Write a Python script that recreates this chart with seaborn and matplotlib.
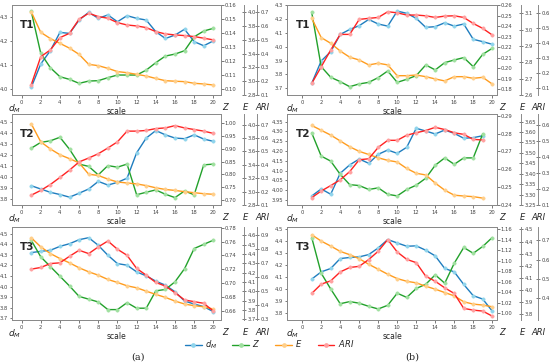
import numpy as np
import pandas as pd
import matplotlib.pyplot as plt
import seaborn as sns
from matplotlib.lines import Line2D

# x values
scale_20 = list(range(1, 21))
scale_19 = list(range(1, 20))

# (a) T1
a_t1_dm = [4.008, 4.105, 4.160, 4.235, 4.231, 4.286, 4.318, 4.293, 4.307, 4.279,
           4.304, 4.293, 4.286, 4.238, 4.210, 4.224, 4.248, 4.197, 4.180, 4.200]
a_t1_z = [0.1557, 0.1256, 0.1154, 0.1090, 0.1071, 0.1043, 0.1059, 0.1062, 0.1083, 0.1102,
          0.1102, 0.1102, 0.1137, 0.1190, 0.1237, 0.1251, 0.1275, 0.1374, 0.1415, 0.1434]
a_t1_e = [4.01, 3.71, 3.62, 3.55, 3.48, 3.39, 3.245, 3.226, 3.187, 3.14,
          3.124, 3.10, 3.076, 3.04, 3.008, 3.00, 2.994, 2.97, 2.96, 2.945]
a_t1_ari = [0.173, 0.378, 0.427, 0.516, 0.548, 0.650, 0.693, 0.669, 0.657, 0.625,
            0.608, 0.601, 0.589, 0.560, 0.543, 0.536, 0.531, 0.524, 0.512, 0.500]

# (b) T1
b_t1_dm = [3.736, 3.897, 3.964, 4.088, 4.124, 4.151, 4.196, 4.163, 4.148, 4.256,
           4.240, 4.204, 4.139, 4.144, 4.172, 4.148, 4.163, 4.053, 4.036, 4.017]
b_t1_z = [0.2531, 0.2015, 0.1914, 0.1873, 0.1825, 0.1851, 0.1866, 0.1911, 0.1974, 0.1866,
          0.1895, 0.1930, 0.2031, 0.1984, 0.2053, 0.2078, 0.2101, 0.2015, 0.2132, 0.2189]
b_t1_e = [3.069, 2.951, 2.916, 2.869, 2.831, 2.814, 2.784, 2.794, 2.784, 2.718,
          2.718, 2.722, 2.712, 2.698, 2.686, 2.712, 2.712, 2.702, 2.708, 2.667]
b_t1_ari = [0.133, 0.244, 0.356, 0.460, 0.460, 0.560, 0.567, 0.573, 0.611, 0.604,
            0.589, 0.589, 0.584, 0.573, 0.582, 0.584, 0.573, 0.533, 0.500, 0.456]

# (a) T2
a_t2_dm = [3.925, 3.895, 3.865, 3.845, 3.821, 3.857, 3.895, 3.964, 3.931, 3.955,
           3.993, 4.223, 4.357, 4.425, 4.386, 4.357, 4.351, 4.386, 4.348, 4.327]
a_t2_z = [0.902, 0.925, 0.931, 0.945, 0.898, 0.840, 0.831, 0.798, 0.834, 0.828,
          0.840, 0.720, 0.730, 0.739, 0.722, 0.709, 0.735, 0.720, 0.837, 0.840]
a_t2_e = [4.015, 3.744, 3.638, 3.551, 3.492, 3.430, 3.260, 3.241, 3.187, 3.144,
          3.129, 3.115, 3.090, 3.057, 3.032, 3.018, 2.999, 2.984, 2.969, 2.960]
a_t2_ari = [0.173, 0.209, 0.253, 0.306, 0.361, 0.422, 0.451, 0.483, 0.526, 0.572,
            0.652, 0.652, 0.657, 0.671, 0.676, 0.693, 0.676, 0.664, 0.652, 0.635]

# (b) T2
b_t2_dm = [3.970, 4.006, 3.979, 4.086, 4.129, 4.159, 4.137, 4.183, 4.205, 4.188,
           4.219, 4.316, 4.302, 4.287, 4.307, 4.290, 4.265, 4.268, 4.278]
b_t2_z = [0.2804, 0.2674, 0.2646, 0.2572, 0.2514, 0.2509, 0.2487, 0.2496, 0.2460, 0.2451,
          0.2487, 0.2511, 0.2550, 0.2623, 0.2664, 0.2628, 0.2664, 0.2664, 0.2799]
b_t2_e = [3.631, 3.608, 3.585, 3.557, 3.529, 3.507, 3.492, 3.476, 3.464, 3.456,
          3.425, 3.402, 3.394, 3.355, 3.321, 3.297, 3.293, 3.290, 3.283]
b_t2_ari = [0.146, 0.187, 0.221, 0.257, 0.308, 0.382, 0.388, 0.459, 0.503, 0.503,
            0.535, 0.550, 0.564, 0.584, 0.570, 0.550, 0.540, 0.509, 0.505]

# (a) T3
a_t3_dm = [4.321, 4.333, 4.343, 4.380, 4.405, 4.443, 4.462, 4.390, 4.296, 4.217,
           4.202, 4.139, 4.101, 4.051, 4.013, 3.951, 3.863, 3.835, 3.810, 3.763]
a_t3_z = [0.762, 0.738, 0.724, 0.710, 0.696, 0.681, 0.677, 0.673, 0.662, 0.662,
          0.672, 0.664, 0.664, 0.689, 0.691, 0.702, 0.721, 0.750, 0.756, 0.762]
a_t3_e = [4.575, 4.476, 4.405, 4.351, 4.305, 4.252, 4.209, 4.173, 4.127, 4.095,
          4.059, 4.038, 4.002, 3.967, 3.935, 3.896, 3.864, 3.846, 3.835, 3.810]
a_t3_ari = [0.658, 0.670, 0.698, 0.703, 0.750, 0.793, 0.769, 0.817, 0.859, 0.800,
            0.757, 0.663, 0.615, 0.563, 0.537, 0.490, 0.438, 0.426, 0.414, 0.359]

# (b) T3
b_t3_dm = [4.083, 4.143, 4.171, 4.253, 4.262, 4.267, 4.286, 4.341, 4.410, 4.382,
           4.355, 4.358, 4.322, 4.275, 4.171, 4.143, 4.039, 3.946, 3.918, 3.819]
b_t3_z = [1.144, 1.076, 1.046, 1.018, 1.022, 1.019, 1.013, 1.008, 1.015, 1.038,
          1.030, 1.047, 1.055, 1.073, 1.057, 1.095, 1.125, 1.114, 1.127, 1.144]
b_t3_e = [4.456, 4.404, 4.363, 4.319, 4.292, 4.259, 4.213, 4.172, 4.131, 4.095,
          4.073, 4.060, 4.032, 4.008, 3.980, 3.953, 3.904, 3.885, 3.877, 3.863]
b_t3_ari = [0.426, 0.474, 0.491, 0.537, 0.560, 0.566, 0.601, 0.644, 0.704, 0.640,
            0.602, 0.585, 0.515, 0.489, 0.455, 0.426, 0.349, 0.340, 0.335, 0.309]

series_names = ['dM', 'Z', 'E', 'ARI']
legend_labels = ['$d_M$', '$Z$', '$E$', '$ARI$']
colors = {'dM': ('#1f7dbf', '#8fd4ec'), 'Z': ('#22a12b', '#9fe09f'),
          'E': ('#ff9c1e', '#ffcf8a'), 'ARI': ('#ff2222', '#ffa0a0')}

sns.set_style("ticks")
plt.rcParams['font.family'] = ['DejaVu Sans']
plt.rcParams['axes.edgecolor'] = '#8a8a8a'
plt.rcParams['axes.linewidth'] = 0.7

fig = plt.figure(figsize=(5.5, 3.64), dpi=100)

tick_fs = 3.8


def ticks_fmt(lo, hi, step, nd):
    n = int(round((hi - lo) / step))
    vals = [lo + i * step for i in range(n + 1)]
    return vals, ['%.*f' % (nd, v) for v in vals]


def draw_panel(rect, x, data, ylims, yt, name, e_pos, a_pos, lab_x, xlim):
    ax = fig.add_axes(rect)
    az = ax.twinx()
    ae = ax.twinx()
    aa = ax.twinx()
    ae.spines['right'].set_position(('axes', e_pos))
    aa.spines['right'].set_position(('axes', a_pos))
    for a in (ae, aa):
        for s in ('left', 'top', 'bottom'):
            a.spines[s].set_visible(False)
    axes = {'dM': ax, 'Z': az, 'E': ae, 'ARI': aa}
    for key in series_names:
        a = axes[key]
        c, lc = colors[key]
        df = pd.DataFrame({'scale': x, 'value': data[key]})
        sns.lineplot(data=df, x='scale', y='value', ax=a, color=c, linewidth=1.0,
                     marker='o', markersize=2.4, markerfacecolor=lc,
                     markeredgecolor=lc, markeredgewidth=0.4)
        a.set_ylim(*ylims[key])
        vals, labs = yt[key]
        a.set_yticks(vals)
        a.set_yticklabels(labs, fontsize=tick_fs)
        a.set_ylabel('')
        a.tick_params(axis='y', length=1.8, width=0.5, pad=1.0, colors='#444444')
    ae.tick_params(axis='y', direction='inout', length=3)
    aa.tick_params(axis='y', direction='inout', length=3)
    ax.set_xlim(*xlim)
    ax.set_xticks(range(0, 21, 2))
    ax.set_xticklabels([str(v) for v in range(0, 21, 2)], fontsize=tick_fs)
    ax.tick_params(axis='x', length=1.8, width=0.5, pad=1.5, colors='#444444')
    ax.set_xlabel('scale', fontsize=5.5, labelpad=1.5)
    ax.text(0.04, 0.78, name, transform=ax.transAxes, fontsize=7.5,
            fontweight='semibold', va='center', ha='left')
    ty = -0.085
    ax.text(lab_x[0], ty, '$d_M$', transform=ax.transAxes, fontsize=6.5,
            ha='center', va='top')
    ax.text(lab_x[1], ty, 'Z', transform=ax.transAxes, fontsize=6,
            style='italic', ha='center', va='top')
    ax.text(lab_x[2], ty, 'E', transform=ax.transAxes, fontsize=6,
            style='italic', ha='center', va='top')
    ax.text(lab_x[3], ty, 'ARI', transform=ax.transAxes, fontsize=6,
            style='italic', ha='center', va='top')


W, H = 550.0, 364.0


def rect(x0, x1, y0, y1):
    return [x0 / W, 1 - y1 / H, (x1 - x0) / W, (y1 - y0) / H]


rows = [(5, 95), (114, 205), (227, 320)]
left_x = (12, 221)
right_x = (287, 497)
left_lab = (0.012, 1.02, 1.115, 1.2)
right_lab = (0.025, 1.025, 1.12, 1.2)
left_xlim = (-1.0, 20.8)
right_xlim = (-1.6, 20.5)

# (a) T1
draw_panel(rect(*left_x, *rows[0]), scale_20,
           {'dM': a_t1_dm, 'Z': a_t1_z, 'E': a_t1_e, 'ARI': a_t1_ari},
           {'dM': (3.977, 4.348), 'Z': (0.096, 0.16), 'E': (2.8, 4.107), 'ARI': (0.1, 0.753)},
           {'dM': ticks_fmt(4.0, 4.3, 0.1, 1), 'Z': ticks_fmt(0.10, 0.16, 0.01, 2),
            'E': ticks_fmt(2.8, 4.0, 0.2, 1), 'ARI': ticks_fmt(0.1, 0.7, 0.1, 1)},
           'T1', 1.11, 1.172, left_lab, left_xlim)
# (b) T1
draw_panel(rect(*right_x, *rows[0]), scale_20,
           {'dM': b_t1_dm, 'Z': b_t1_z, 'E': b_t1_e, 'ARI': b_t1_ari},
           {'dM': (3.652, 4.3), 'Z': (0.1746, 0.26), 'E': (2.6, 3.15), 'ARI': (0.056, 0.656)},
           {'dM': ticks_fmt(3.7, 4.3, 0.1, 1), 'Z': ticks_fmt(0.18, 0.26, 0.01, 2),
            'E': ticks_fmt(2.6, 3.1, 0.1, 1), 'ARI': ticks_fmt(0.1, 0.6, 0.1, 1)},
           'T1', 1.114, 1.195, right_lab, right_xlim)
# (a) T2
draw_panel(rect(*left_x, *rows[1]), scale_20,
           {'dM': a_t2_dm, 'Z': a_t2_z, 'E': a_t2_e, 'ARI': a_t2_ari},
           {'dM': (3.75, 4.575), 'Z': (0.68, 1.036), 'E': (2.8, 4.16), 'ARI': (0.1, 0.78)},
           {'dM': ticks_fmt(3.8, 4.5, 0.1, 1), 'Z': ticks_fmt(0.70, 1.00, 0.05, 2),
            'E': ticks_fmt(2.8, 4.0, 0.2, 1), 'ARI': ticks_fmt(0.1, 0.7, 0.1, 1)},
           'T2', 1.11, 1.172, left_lab, left_xlim)
# (b) T2
draw_panel(rect(*right_x, *rows[1]), scale_19,
           {'dM': b_t2_dm, 'Z': b_t2_z, 'E': b_t2_e, 'ARI': b_t2_ari},
           {'dM': (3.924, 4.389), 'Z': (0.24, 0.291), 'E': (3.25, 3.686), 'ARI': (0.1, 0.667)},
           {'dM': ticks_fmt(3.95, 4.35, 0.05, 2), 'Z': ticks_fmt(0.24, 0.29, 0.01, 2),
            'E': ticks_fmt(3.25, 3.65, 0.05, 2), 'ARI': ticks_fmt(0.1, 0.6, 0.1, 1)},
           'T2', 1.114, 1.195, right_lab, right_xlim)
# (a) T3
draw_panel(rect(*left_x, *rows[2]), scale_20,
           {'dM': a_t3_dm, 'Z': a_t3_z, 'E': a_t3_e, 'ARI': a_t3_ari},
           {'dM': (3.684, 4.563), 'Z': (0.647, 0.781), 'E': (3.693, 4.689), 'ARI': (0.295, 0.959)},
           {'dM': ticks_fmt(3.7, 4.5, 0.1, 1), 'Z': ticks_fmt(0.66, 0.78, 0.02, 2),
            'E': ticks_fmt(3.7, 4.6, 0.1, 1), 'ARI': ticks_fmt(0.3, 0.9, 0.1, 1)},
           'T3', 1.11, 1.172, left_lab, left_xlim)
# (b) T3
draw_panel(rect(*right_x, *rows[2]), scale_20,
           {'dM': b_t3_dm, 'Z': b_t3_z, 'E': b_t3_e, 'ARI': b_t3_ari},
           {'dM': (3.745, 4.514), 'Z': (0.987, 1.164), 'E': (3.754, 4.52), 'ARI': (0.289, 0.769)},
           {'dM': ticks_fmt(3.8, 4.5, 0.1, 1), 'Z': ticks_fmt(1.00, 1.16, 0.02, 2),
            'E': ticks_fmt(3.8, 4.5, 0.1, 1), 'ARI': ticks_fmt(0.4, 0.7, 0.1, 1)},
           'T3', 1.114, 1.195, right_lab, right_xlim)

handles = [Line2D([], [], color=colors[k][0], lw=1.0, marker='o', markersize=2.4,
                  markerfacecolor=colors[k][1], markeredgecolor=colors[k][1])
           for k in series_names]
fig.legend(handles, legend_labels, loc='center', bbox_to_anchor=(0.49, 0.053),
           ncol=4, frameon=False, fontsize=6, handlelength=2.0, columnspacing=1.8,
           handletextpad=0.4)

fig.text(0.25, 0.02, '(a)', fontsize=7, family='DejaVu Serif', ha='center', va='center')
fig.text(0.75, 0.02, '(b)', fontsize=7, family='DejaVu Serif', ha='center', va='center')

fig.savefig('out.png', dpi=100)
